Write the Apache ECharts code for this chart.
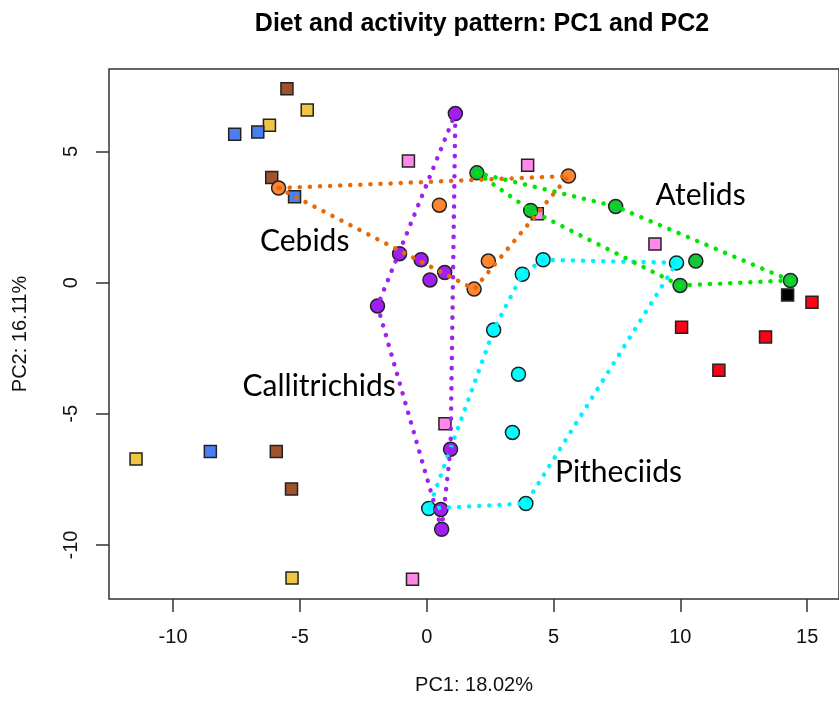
<!DOCTYPE html>
<html>
<head>
<meta charset="utf-8">
<script src="https://cdn.jsdelivr.net/npm/echarts@6/dist/echarts.min.js"></script>
<style>
  html, body { margin: 0; padding: 0; background: #fff; }
  #chart { width: 839px; height: 704px; }
</style>
</head>
<body>
<div id="chart"></div>
<script>
// PCA scores (PC1, PC2) per specimen group
const cebids = [[-5.84, 3.60], [0.50, 2.95], [2.43, 0.82], [1.87, -0.25], [5.59, 4.06]];
const callitrichids = [[1.13, 6.44], [-1.07, 1.10], [-0.22, 0.87], [0.71, 0.38], [0.13, 0.10],
                       [-1.94, -0.89], [0.94, -6.35], [0.56, -8.65], [0.59, -9.40]];
const pitheciids = [[4.59, 0.87], [3.77, 0.32], [2.64, -1.81], [3.62, -3.49], [3.38, -5.71],
                    [3.91, -8.42], [0.08, -8.61], [9.85, 0.75]];
const atelids = [[1.98, 4.18], [4.10, 2.75], [7.45, 2.90], [10.61, 0.82], [9.99, -0.11], [14.34, 0.08]];

// other taxa, drawn as squares
const siennaTaxa = [[-5.51, 7.39], [-6.11, 4.00], [-5.93, -6.44], [-5.33, -7.87]];
const goldTaxa = [[-4.71, 6.58], [-6.20, 5.99], [-11.46, -6.72], [-5.31, -11.26]];
const blueTaxa = [[-6.66, 5.74], [-7.57, 5.65], [-5.21, 3.27], [-8.53, -6.44]];
const pinkTaxa = [[-0.72, 4.63], [3.98, 4.47], [4.36, 2.62], [9.00, 1.47], [0.72, -5.38], [-0.56, -11.31]];
const redTaxa = [[15.19, -0.75], [10.05, -1.70], [13.36, -2.07], [11.52, -3.34]];
const blackTaxa = [[14.23, -0.47]];

// group labels and where they sit
const groupNames = ['Cebids', 'Atelids', 'Callitrichids', 'Pitheciids'];
const groupLabelX = [-4.81, 10.80, -4.24, 7.56];
const groupLabelY = [1.59, 3.31, -3.94, -7.23];

// axis ticks
const xTicks = [-10, -5, 0, 5, 10, 15];
const yTicks = [-10, -5, 0, 5];

// convex hull (monotone chain), closed for drawing
function hull(points) {
  const p = points.slice().sort((a, b) => a[0] - b[0] || a[1] - b[1]);
  const cross = (o, a, b) => (a[0] - o[0]) * (b[1] - o[1]) - (a[1] - o[1]) * (b[0] - o[0]);
  const lower = [], upper = [];
  for (const pt of p) {
    while (lower.length >= 2 && cross(lower[lower.length - 2], lower[lower.length - 1], pt) <= 0) lower.pop();
    lower.push(pt);
  }
  for (let i = p.length - 1; i >= 0; i--) {
    const pt = p[i];
    while (upper.length >= 2 && cross(upper[upper.length - 2], upper[upper.length - 1], pt) <= 0) upper.pop();
    upper.push(pt);
  }
  upper.pop(); lower.pop();
  const h = lower.concat(upper);
  h.push(h[0]);
  return h;
}

// plot limits: data range padded by 4% on each side
const all = [].concat(cebids, callitrichids, pitheciids, atelids, siennaTaxa, goldTaxa, blueTaxa, pinkTaxa, redTaxa, blackTaxa);
function padRange(vals) {
  const lo = Math.min(...vals), hi = Math.max(...vals), d = (hi - lo) * 0.04;
  return [lo - d, hi + d];
}
const [xMin, xMax] = padRange(all.map(p => p[0]));
const [yMin, yMax] = padRange(all.map(p => p[1]));

const edge = '#222';
function squares(data, color) {
  return {
    type: 'scatter', data: data, symbol: 'rect', symbolSize: 12,
    itemStyle: { color: color, borderColor: edge, borderWidth: 1.5, opacity: 1 },
    silent: true, z: 2
  };
}
function circles(data, color) {
  return {
    type: 'scatter', data: data, symbol: 'circle', symbolSize: 14,
    itemStyle: { color: color, borderColor: edge, borderWidth: 1.5, opacity: 1 },
    silent: true, z: 3
  };
}
function outline(data, color) {
  return {
    type: 'line', data: hull(data), symbol: 'none', smooth: false, silent: true, z: 4,
    lineStyle: { color: color, width: 4.5, type: [0.1, 10], cap: 'round' }
  };
}

const axisFont = 'Liberation Sans, Arial, Helvetica, sans-serif';

const chart = echarts.init(document.getElementById('chart'), null, { renderer: 'canvas' });
chart.setOption({
  animation: false,
  backgroundColor: '#fff',
  title: {
    text: 'Diet and activity pattern: PC1 and PC2',
    left: 477, top: 7, textAlign: 'center',
    textStyle: { fontFamily: axisFont, fontWeight: 'bold', fontSize: 25, color: '#000' }
  },
  grid: {
    left: 109, top: 69, right: -3, bottom: 105,
    show: true, borderColor: '#333', borderWidth: 1.5, backgroundColor: 'transparent'
  },
  xAxis: {
    type: 'value', min: xMin, max: xMax,
    name: 'PC1: 18.02%', nameLocation: 'middle', nameGap: 76,
    nameTextStyle: { fontFamily: axisFont, fontSize: 20, color: '#111' },
    axisLine: { show: false, onZero: false },
    splitLine: { show: false },
    axisTick: { show: true, length: 13, customValues: xTicks, lineStyle: { color: '#333', width: 1.5 } },
    axisLabel: { customValues: xTicks, margin: 28, fontFamily: axisFont, fontSize: 20, color: '#111' }
  },
  yAxis: {
    type: 'value', min: yMin, max: yMax,
    name: 'PC2: 16.11%', nameLocation: 'middle', nameGap: 79, nameRotate: 90,
    nameTextStyle: { fontFamily: axisFont, fontSize: 20, color: '#111' },
    axisLine: { show: false, onZero: false },
    splitLine: { show: false },
    axisTick: { show: true, length: 13, customValues: yTicks, lineStyle: { color: '#333', width: 1.5 } },
    axisLabel: { customValues: yTicks, rotate: 90, margin: 28, fontFamily: axisFont, fontSize: 20, color: '#111' }
  },
  series: [
    squares(siennaTaxa, '#A0522D'),
    squares(goldTaxa, '#EEC643'),
    squares(blueTaxa, '#4A7EF2'),
    squares(pinkTaxa, '#FF88E8'),
    squares(redTaxa, '#FF0014'),
    squares(blackTaxa, '#000000'),
    circles(pitheciids, '#00FFFF'),
    circles(cebids, '#FF8530'),
    circles(atelids, '#14C63A'),
    circles(callitrichids, '#A020F0'),
    outline(pitheciids, '#00F0FF'),
    outline(atelids, '#00E600'),
    outline(callitrichids, '#A020F0'),
    outline(cebids, '#E66A0A'),
    {
      type: 'scatter', silent: true, z: 5, symbol: 'circle', symbolSize: 0,
      itemStyle: { color: '#000', opacity: 1 },
      data: groupNames.map((n, i) => ({ name: n, value: [groupLabelX[i], groupLabelY[i]] })),
      label: {
        show: true, position: 'inside', formatter: '{b}', opacity: 1,
        textBorderWidth: 0, fontFamily: 'Lato, Open Sans, sans-serif', fontSize: 30, color: '#000'
      }
    }
  ]
});
</script>
</body>
</html>
